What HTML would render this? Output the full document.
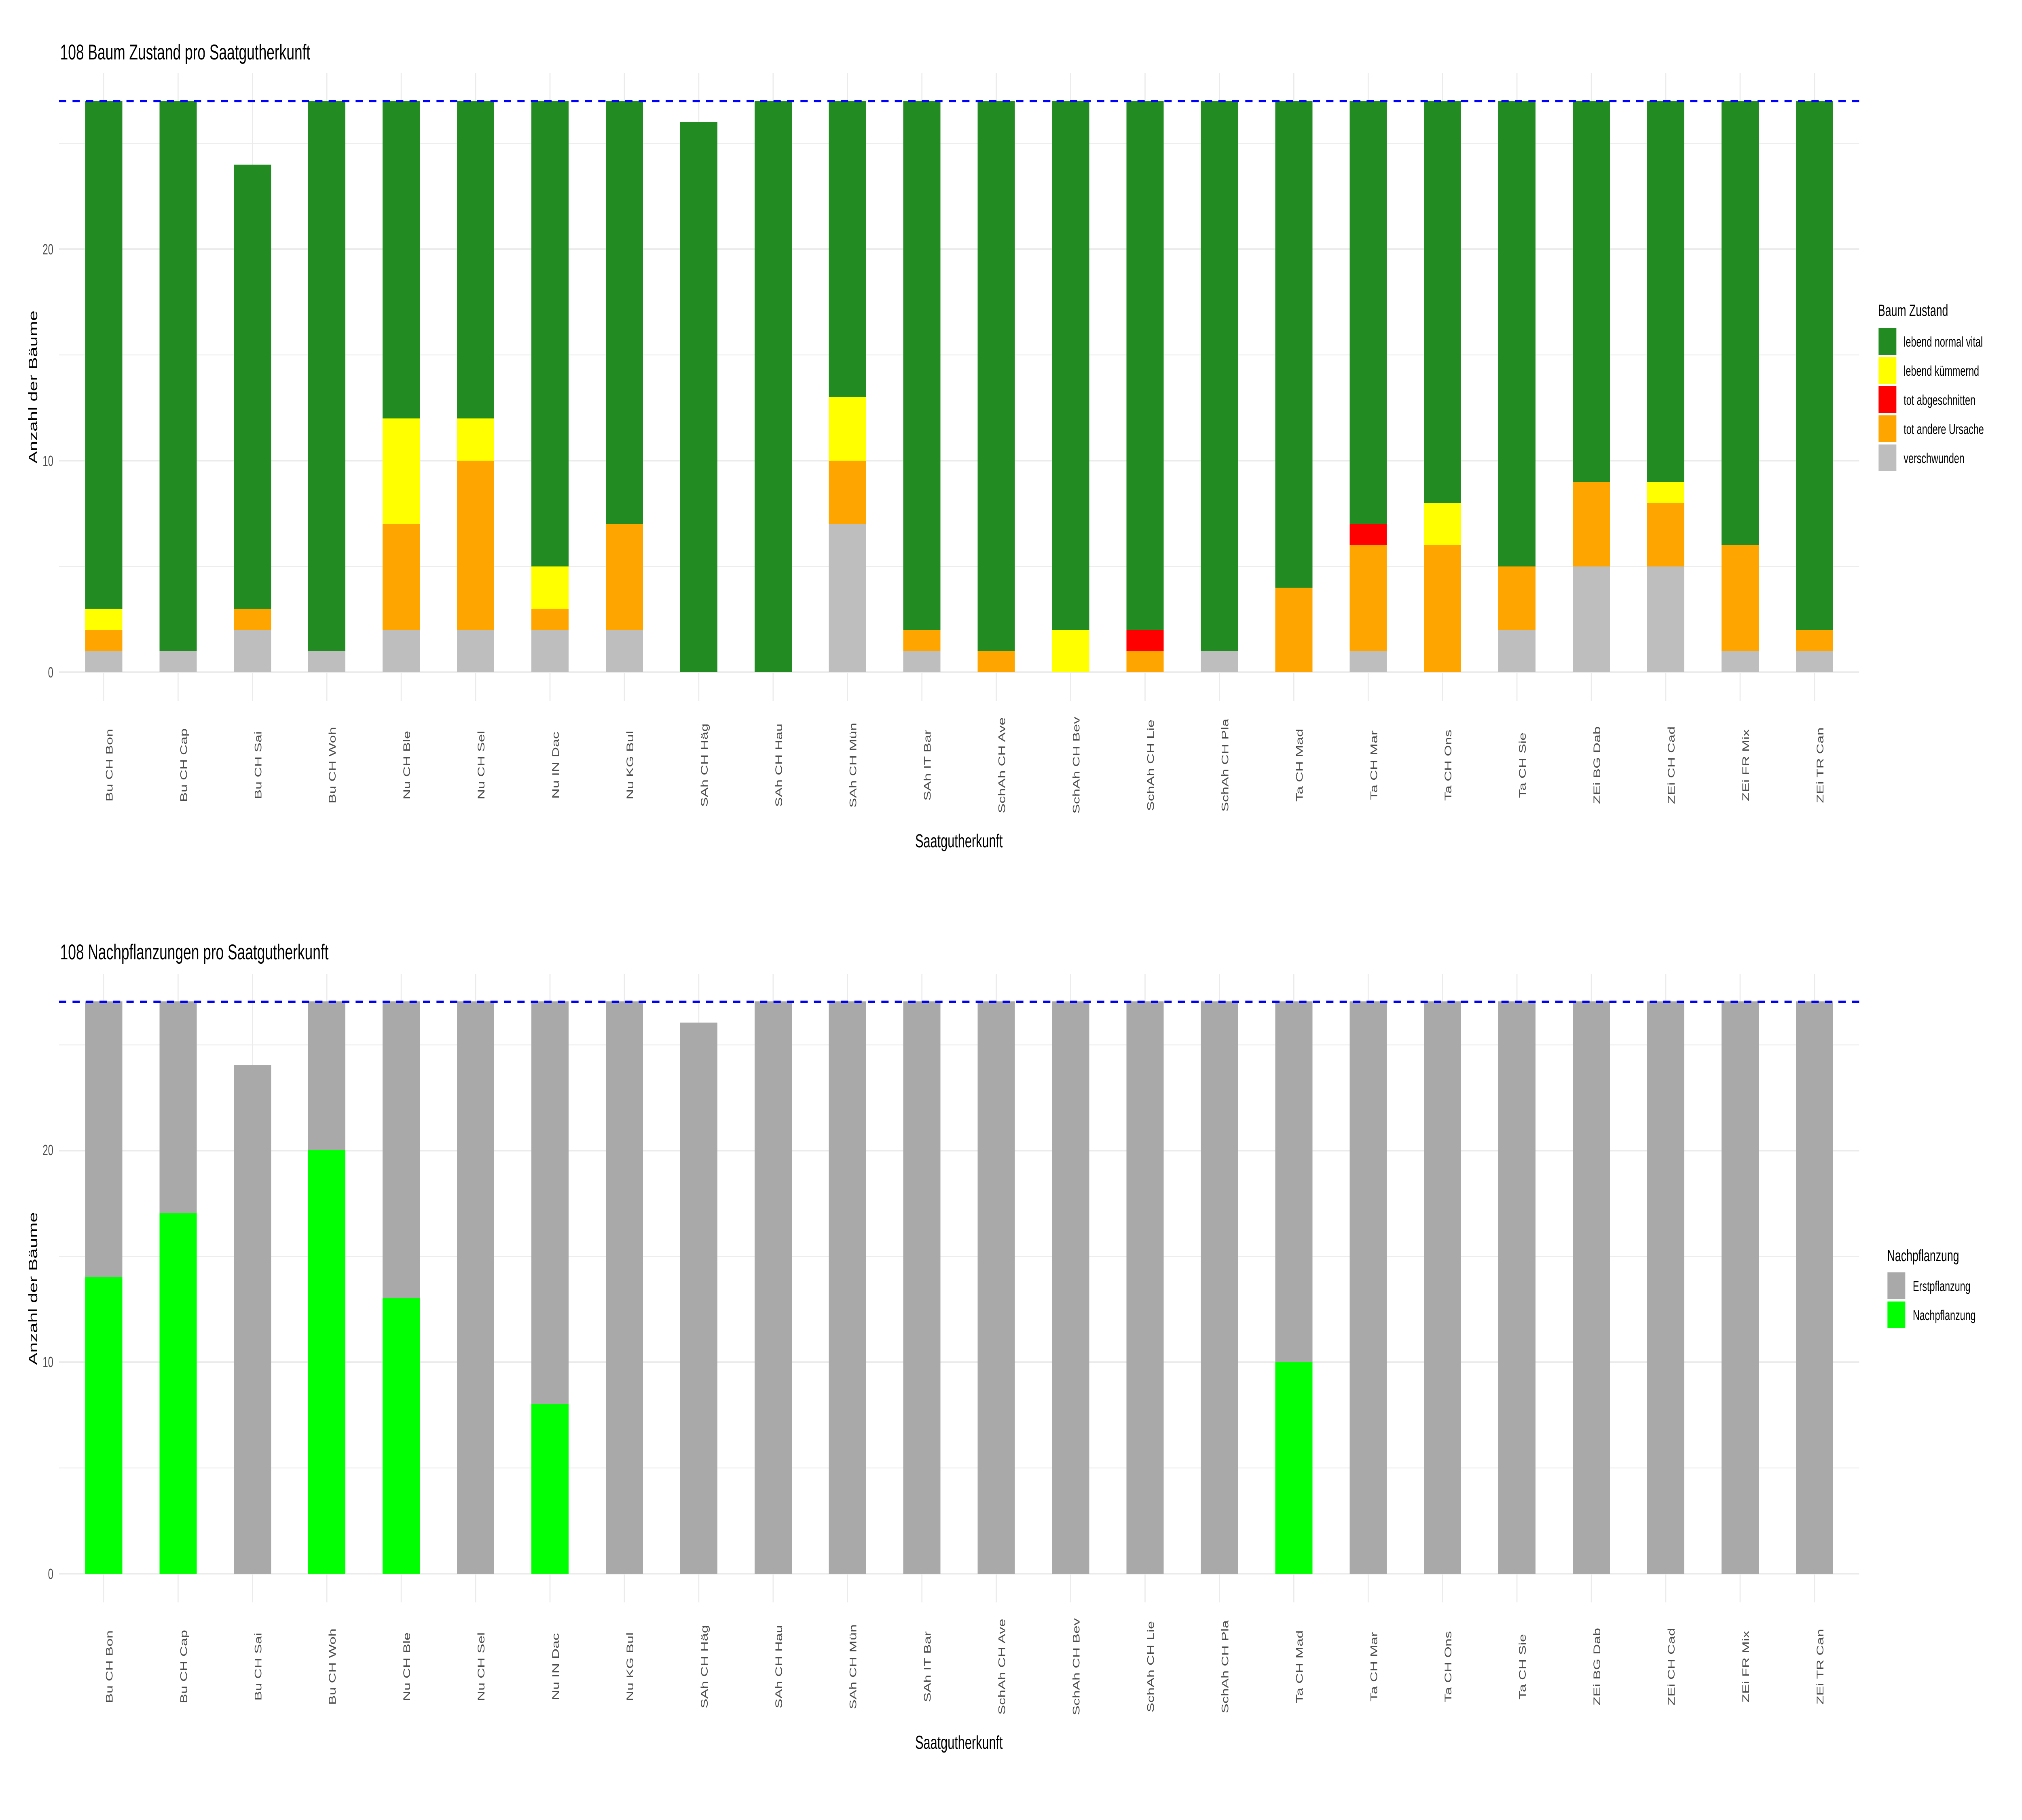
<!DOCTYPE html>
<html><head><meta charset="utf-8"><style>
html,body{margin:0;padding:0;background:#fff;width:100%;height:100%;overflow:hidden;}
svg{display:block;font-family:"Liberation Sans",Arial,sans-serif;width:100vw;height:100vh;}
</style></head><body>
<svg viewBox="0 0 7500 4500" preserveAspectRatio="none" xmlns="http://www.w3.org/2000/svg">
<rect width="7500" height="4500" fill="#fff"/>
<defs>
<g id="vgrid" stroke="#EBEBEB" stroke-width="4">
<line x1="384.6" x2="384.6" y1="0" y2="1553"/><line x1="660.5" x2="660.5" y1="0" y2="1553"/><line x1="936.4" x2="936.4" y1="0" y2="1553"/><line x1="1212.3" x2="1212.3" y1="0" y2="1553"/><line x1="1488.2" x2="1488.2" y1="0" y2="1553"/><line x1="1764.1" x2="1764.1" y1="0" y2="1553"/><line x1="2040" x2="2040" y1="0" y2="1553"/><line x1="2315.9" x2="2315.9" y1="0" y2="1553"/><line x1="2591.8" x2="2591.8" y1="0" y2="1553"/><line x1="2867.7" x2="2867.7" y1="0" y2="1553"/><line x1="3143.6" x2="3143.6" y1="0" y2="1553"/><line x1="3419.5" x2="3419.5" y1="0" y2="1553"/><line x1="3695.4" x2="3695.4" y1="0" y2="1553"/><line x1="3971.3" x2="3971.3" y1="0" y2="1553"/><line x1="4247.2" x2="4247.2" y1="0" y2="1553"/><line x1="4523.1" x2="4523.1" y1="0" y2="1553"/><line x1="4799" x2="4799" y1="0" y2="1553"/><line x1="5074.9" x2="5074.9" y1="0" y2="1553"/><line x1="5350.8" x2="5350.8" y1="0" y2="1553"/><line x1="5626.7" x2="5626.7" y1="0" y2="1553"/><line x1="5902.6" x2="5902.6" y1="0" y2="1553"/><line x1="6178.5" x2="6178.5" y1="0" y2="1553"/><line x1="6454.4" x2="6454.4" y1="0" y2="1553"/><line x1="6730.3" x2="6730.3" y1="0" y2="1553"/>
</g>
<g id="hgrid">
<g stroke="#EBEBEB" stroke-width="2"><line x1="219" x2="6896" y1="1220.5" y2="1220.5"/><line x1="219" x2="6896" y1="697.5" y2="697.5"/><line x1="219" x2="6896" y1="174.5" y2="174.5"/></g>
<g stroke="#EBEBEB" stroke-width="4"><line x1="219" x2="6896" y1="1482" y2="1482"/><line x1="219" x2="6896" y1="959" y2="959"/><line x1="219" x2="6896" y1="436" y2="436"/></g>
</g>
<g id="xlabels" font-size="36" fill="#4D4D4D" text-anchor="middle">
<text transform="translate(417.6,1892) rotate(-90)">Bu CH Bon</text>
<text transform="translate(693.5,1892) rotate(-90)">Bu CH Cap</text>
<text transform="translate(969.4,1892) rotate(-90)">Bu CH Sai</text>
<text transform="translate(1245.3,1892) rotate(-90)">Bu CH Woh</text>
<text transform="translate(1521.2,1892) rotate(-90)">Nu CH Ble</text>
<text transform="translate(1797.1,1892) rotate(-90)">Nu CH Sel</text>
<text transform="translate(2073,1892) rotate(-90)">Nu IN Dac</text>
<text transform="translate(2348.9,1892) rotate(-90)">Nu KG Bul</text>
<text transform="translate(2624.8,1892) rotate(-90)">SAh CH Häg</text>
<text transform="translate(2900.7,1892) rotate(-90)">SAh CH Hau</text>
<text transform="translate(3176.6,1892) rotate(-90)">SAh CH Mün</text>
<text transform="translate(3452.5,1892) rotate(-90)">SAh IT Bar</text>
<text transform="translate(3728.4,1892) rotate(-90)">SchAh CH Ave</text>
<text transform="translate(4004.3,1892) rotate(-90)">SchAh CH Bev</text>
<text transform="translate(4280.2,1892) rotate(-90)">SchAh CH Lie</text>
<text transform="translate(4556.1,1892) rotate(-90)">SchAh CH Pla</text>
<text transform="translate(4832,1892) rotate(-90)">Ta CH Mad</text>
<text transform="translate(5107.9,1892) rotate(-90)">Ta CH Mar</text>
<text transform="translate(5383.8,1892) rotate(-90)">Ta CH Ons</text>
<text transform="translate(5659.7,1892) rotate(-90)">Ta CH Sie</text>
<text transform="translate(5935.6,1892) rotate(-90)">ZEi BG Dab</text>
<text transform="translate(6211.5,1892) rotate(-90)">ZEi CH Cad</text>
<text transform="translate(6487.4,1892) rotate(-90)">ZEi FR Mix</text>
<text transform="translate(6763.3,1892) rotate(-90)">ZEi TR Can</text>
</g>
</defs>

<use href="#vgrid" y="180"/>
<use href="#hgrid" y="180"/>
<g transform="translate(0,1662) scale(1,-52.3)" shape-rendering="crispEdges">
<rect x="315.6" y="0" width="138" height="1" fill="#BEBEBE"/><rect x="315.6" y="1" width="138" height="1" fill="#FFA500"/><rect x="315.6" y="2" width="138" height="1" fill="#FFFF00"/><rect x="315.6" y="3" width="138" height="24" fill="#228B22"/>
<rect x="591.5" y="0" width="138" height="1" fill="#BEBEBE"/><rect x="591.5" y="1" width="138" height="26" fill="#228B22"/>
<rect x="867.4" y="0" width="138" height="2" fill="#BEBEBE"/><rect x="867.4" y="2" width="138" height="1" fill="#FFA500"/><rect x="867.4" y="3" width="138" height="21" fill="#228B22"/>
<rect x="1143.3" y="0" width="138" height="1" fill="#BEBEBE"/><rect x="1143.3" y="1" width="138" height="26" fill="#228B22"/>
<rect x="1419.2" y="0" width="138" height="2" fill="#BEBEBE"/><rect x="1419.2" y="2" width="138" height="5" fill="#FFA500"/><rect x="1419.2" y="7" width="138" height="5" fill="#FFFF00"/><rect x="1419.2" y="12" width="138" height="15" fill="#228B22"/>
<rect x="1695.1" y="0" width="138" height="2" fill="#BEBEBE"/><rect x="1695.1" y="2" width="138" height="8" fill="#FFA500"/><rect x="1695.1" y="10" width="138" height="2" fill="#FFFF00"/><rect x="1695.1" y="12" width="138" height="15" fill="#228B22"/>
<rect x="1971" y="0" width="138" height="2" fill="#BEBEBE"/><rect x="1971" y="2" width="138" height="1" fill="#FFA500"/><rect x="1971" y="3" width="138" height="2" fill="#FFFF00"/><rect x="1971" y="5" width="138" height="22" fill="#228B22"/>
<rect x="2246.9" y="0" width="138" height="2" fill="#BEBEBE"/><rect x="2246.9" y="2" width="138" height="5" fill="#FFA500"/><rect x="2246.9" y="7" width="138" height="20" fill="#228B22"/>
<rect x="2522.8" y="0" width="138" height="26" fill="#228B22"/>
<rect x="2798.7" y="0" width="138" height="27" fill="#228B22"/>
<rect x="3074.6" y="0" width="138" height="7" fill="#BEBEBE"/><rect x="3074.6" y="7" width="138" height="3" fill="#FFA500"/><rect x="3074.6" y="10" width="138" height="3" fill="#FFFF00"/><rect x="3074.6" y="13" width="138" height="14" fill="#228B22"/>
<rect x="3350.5" y="0" width="138" height="1" fill="#BEBEBE"/><rect x="3350.5" y="1" width="138" height="1" fill="#FFA500"/><rect x="3350.5" y="2" width="138" height="25" fill="#228B22"/>
<rect x="3626.4" y="0" width="138" height="1" fill="#FFA500"/><rect x="3626.4" y="1" width="138" height="26" fill="#228B22"/>
<rect x="3902.3" y="0" width="138" height="2" fill="#FFFF00"/><rect x="3902.3" y="2" width="138" height="25" fill="#228B22"/>
<rect x="4178.2" y="0" width="138" height="1" fill="#FFA500"/><rect x="4178.2" y="1" width="138" height="1" fill="#FF0000"/><rect x="4178.2" y="2" width="138" height="25" fill="#228B22"/>
<rect x="4454.1" y="0" width="138" height="1" fill="#BEBEBE"/><rect x="4454.1" y="1" width="138" height="26" fill="#228B22"/>
<rect x="4730" y="0" width="138" height="4" fill="#FFA500"/><rect x="4730" y="4" width="138" height="23" fill="#228B22"/>
<rect x="5005.9" y="0" width="138" height="1" fill="#BEBEBE"/><rect x="5005.9" y="1" width="138" height="5" fill="#FFA500"/><rect x="5005.9" y="6" width="138" height="1" fill="#FF0000"/><rect x="5005.9" y="7" width="138" height="20" fill="#228B22"/>
<rect x="5281.8" y="0" width="138" height="6" fill="#FFA500"/><rect x="5281.8" y="6" width="138" height="2" fill="#FFFF00"/><rect x="5281.8" y="8" width="138" height="19" fill="#228B22"/>
<rect x="5557.7" y="0" width="138" height="2" fill="#BEBEBE"/><rect x="5557.7" y="2" width="138" height="3" fill="#FFA500"/><rect x="5557.7" y="5" width="138" height="22" fill="#228B22"/>
<rect x="5833.6" y="0" width="138" height="5" fill="#BEBEBE"/><rect x="5833.6" y="5" width="138" height="4" fill="#FFA500"/><rect x="5833.6" y="9" width="138" height="18" fill="#228B22"/>
<rect x="6109.5" y="0" width="138" height="5" fill="#BEBEBE"/><rect x="6109.5" y="5" width="138" height="3" fill="#FFA500"/><rect x="6109.5" y="8" width="138" height="1" fill="#FFFF00"/><rect x="6109.5" y="9" width="138" height="18" fill="#228B22"/>
<rect x="6385.4" y="0" width="138" height="1" fill="#BEBEBE"/><rect x="6385.4" y="1" width="138" height="5" fill="#FFA500"/><rect x="6385.4" y="6" width="138" height="21" fill="#228B22"/>
<rect x="6661.3" y="0" width="138" height="1" fill="#BEBEBE"/><rect x="6661.3" y="1" width="138" height="1" fill="#FFA500"/><rect x="6661.3" y="2" width="138" height="25" fill="#228B22"/>
</g>
<line x1="219" x2="6896" y1="250" y2="250" stroke="#0000FF" stroke-width="6" stroke-dasharray="27 23"/>
<g font-size="36" fill="#4D4D4D" text-anchor="end">
<text x="198" y="1675">0</text><text x="198" y="1152">10</text><text x="198" y="629">20</text>
</g>
<use href="#xlabels"/>
<text x="223" y="147" font-size="53">108 Baum Zustand pro Saatgutherkunft</text>
<text x="3557" y="2095" font-size="46" text-anchor="middle">Saatgutherkunft</text>
<text transform="translate(138,957) rotate(-90)" font-size="46" text-anchor="middle">Anzahl der Bäume</text>
<text x="6966" y="781" font-size="40">Baum Zustand</text>
<rect x="6968" y="811" width="66" height="66" fill="#228B22"/>
<rect x="6968" y="883" width="66" height="66" fill="#FFFF00"/>
<rect x="6968" y="955" width="66" height="66" fill="#FF0000"/>
<rect x="6968" y="1027" width="66" height="66" fill="#FFA500"/>
<rect x="6968" y="1099" width="66" height="66" fill="#BEBEBE"/>
<g font-size="35">
<text x="7061" y="857">lebend normal vital</text>
<text x="7061" y="929">lebend kümmernd</text>
<text x="7061" y="1001">tot abgeschnitten</text>
<text x="7061" y="1073">tot andere Ursache</text>
<text x="7061" y="1145">verschwunden</text>
</g>

<use href="#vgrid" y="2409"/>
<use href="#hgrid" y="2409"/>
<g transform="translate(0,3891) scale(1,-52.4)" shape-rendering="crispEdges">
<rect x="315.6" y="0" width="138" height="14" fill="#00FF00"/><rect x="315.6" y="14" width="138" height="13" fill="#A9A9A9"/>
<rect x="591.5" y="0" width="138" height="17" fill="#00FF00"/><rect x="591.5" y="17" width="138" height="10" fill="#A9A9A9"/>
<rect x="867.4" y="0" width="138" height="24" fill="#A9A9A9"/>
<rect x="1143.3" y="0" width="138" height="20" fill="#00FF00"/><rect x="1143.3" y="20" width="138" height="7" fill="#A9A9A9"/>
<rect x="1419.2" y="0" width="138" height="13" fill="#00FF00"/><rect x="1419.2" y="13" width="138" height="14" fill="#A9A9A9"/>
<rect x="1695.1" y="0" width="138" height="27" fill="#A9A9A9"/>
<rect x="1971" y="0" width="138" height="8" fill="#00FF00"/><rect x="1971" y="8" width="138" height="19" fill="#A9A9A9"/>
<rect x="2246.9" y="0" width="138" height="27" fill="#A9A9A9"/>
<rect x="2522.8" y="0" width="138" height="26" fill="#A9A9A9"/>
<rect x="2798.7" y="0" width="138" height="27" fill="#A9A9A9"/>
<rect x="3074.6" y="0" width="138" height="27" fill="#A9A9A9"/>
<rect x="3350.5" y="0" width="138" height="27" fill="#A9A9A9"/>
<rect x="3626.4" y="0" width="138" height="27" fill="#A9A9A9"/>
<rect x="3902.3" y="0" width="138" height="27" fill="#A9A9A9"/>
<rect x="4178.2" y="0" width="138" height="27" fill="#A9A9A9"/>
<rect x="4454.1" y="0" width="138" height="27" fill="#A9A9A9"/>
<rect x="4730" y="0" width="138" height="10" fill="#00FF00"/><rect x="4730" y="10" width="138" height="17" fill="#A9A9A9"/>
<rect x="5005.9" y="0" width="138" height="27" fill="#A9A9A9"/>
<rect x="5281.8" y="0" width="138" height="27" fill="#A9A9A9"/>
<rect x="5557.7" y="0" width="138" height="27" fill="#A9A9A9"/>
<rect x="5833.6" y="0" width="138" height="27" fill="#A9A9A9"/>
<rect x="6109.5" y="0" width="138" height="27" fill="#A9A9A9"/>
<rect x="6385.4" y="0" width="138" height="27" fill="#A9A9A9"/>
<rect x="6661.3" y="0" width="138" height="27" fill="#A9A9A9"/>
</g>
<line x1="219" x2="6896" y1="2477" y2="2477" stroke="#0000FF" stroke-width="6" stroke-dasharray="27 23"/>
<g font-size="36" fill="#4D4D4D" text-anchor="end">
<text x="198" y="3904">0</text><text x="198" y="3380">10</text><text x="198" y="2856">20</text>
</g>
<use href="#xlabels" y="2229"/>
<text x="223" y="2372" font-size="53">108 Nachpflanzungen pro Saatgutherkunft</text>
<text x="3557" y="4324" font-size="46" text-anchor="middle">Saatgutherkunft</text>
<text transform="translate(138,3186) rotate(-90)" font-size="46" text-anchor="middle">Anzahl der Bäume</text>
<text x="7000" y="3118" font-size="40">Nachpflanzung</text>
<rect x="7001" y="3146" width="66" height="66" fill="#A9A9A9"/>
<rect x="7001" y="3218" width="66" height="66" fill="#00FF00"/>
<g font-size="35">
<text x="7095" y="3192">Erstpflanzung</text>
<text x="7095" y="3264">Nachpflanzung</text>
</g>
</svg>
</body></html>
